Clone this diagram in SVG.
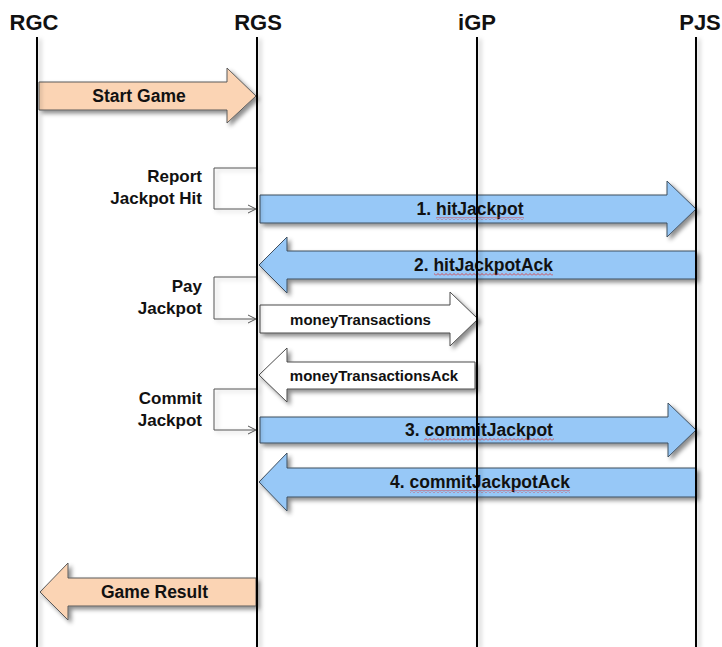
<svg xmlns="http://www.w3.org/2000/svg" width="722" height="647" viewBox="0 0 722 647">
  <style>
    text { font-family: "Liberation Sans", Arial, sans-serif; font-weight: bold; fill: #111; }
    .title { font-size: 22px; text-anchor: middle; }
    .big { font-size: 17.5px; text-anchor: middle; }
    .small { font-size: 15px; text-anchor: middle; }
    .side { font-size: 17px; text-anchor: end; }
    .life { stroke: #000; stroke-width: 2; fill: none; }
    .peach { fill: #FBD4B4; stroke: #5a5a5a; stroke-width: 1; }
    .blue { fill: #97C8F7; stroke: #3f4f5f; stroke-width: 1; }
    .white { fill: #ffffff; stroke: #4a4a4a; stroke-width: 1; }
    .loop { fill: none; stroke: #555; stroke-width: 1; }
  </style>
  <defs>
    <filter id="sh" x="-10%" y="-30%" width="130%" height="180%">
      <feDropShadow dx="3" dy="3" stdDeviation="2" flood-color="#000" flood-opacity="0.45"/>
    </filter>
    <filter id="lsh" filterUnits="userSpaceOnUse" x="0" y="0" width="722" height="647">
      <feDropShadow dx="3" dy="2" stdDeviation="2" flood-color="#000" flood-opacity="0.25"/>
    </filter>
    <pattern id="sq" width="4" height="3" patternUnits="userSpaceOnUse">
      <path d="M0,2.5 L2,0.5 L4,2.5" fill="none" stroke="#e03030" stroke-width="0.8"/>
    </pattern>
  </defs>
  <rect width="722" height="647" fill="#fff"/>

  <g id="connectors">
    <g id="startGame">
      <polygon class="peach" filter="url(#sh)" points="39,82 227,82 227,68 256,96 227,123 227,110 39,110"/>
      <text class="big" x="139" y="102">Start Game</text>
    </g>
    <g id="reportLoop">
      <path class="loop" filter="url(#lsh)" d="M257,168 H214 V209 H255"/>
      <path class="loop" d="M248,205 L256,209 L248,213"/>
    </g>
    <g id="hitJackpot">
      <polygon class="blue" filter="url(#sh)" points="260,195 667,195 667,181 696,209 667,237 667,223 260,223"/>
      <text class="big" x="470" y="215">1. hitJackpot</text>
      <rect x="436" y="217" width="88" height="3" fill="url(#sq)"/>
    </g>
    <g id="hitJackpotAck">
      <polygon class="blue" filter="url(#sh)" points="696,251 287,251 287,237 259,265 287,293 287,279 696,279"/>
      <text class="big" x="483.5" y="271">2. hitJackpotAck</text>
      <rect x="434" y="273" width="119" height="3" fill="url(#sq)"/>
    </g>
    <g id="payLoop">
      <path class="loop" filter="url(#lsh)" d="M257,277 H214 V319 H255"/>
      <path class="loop" d="M248,315 L256,319 L248,323"/>
    </g>
    <g id="moneyTransactions">
      <polygon class="white" filter="url(#sh)" points="260,305 450,305 450,292 478,319 450,346 450,333 260,333"/>
      <text class="small" x="360.5" y="325">moneyTransactions</text>
    </g>
    <g id="moneyTransactionsAck">
      <polygon class="white" filter="url(#sh)" points="475,362 287,362 287,348 259,375 287,402 287,389 475,389"/>
      <text class="small" x="374" y="381">moneyTransactionsAck</text>
    </g>
    <g id="commitLoop">
      <path class="loop" filter="url(#lsh)" d="M257,389 H214 V430 H255"/>
      <path class="loop" d="M248,426 L256,430 L248,434"/>
    </g>
    <g id="commitJackpot">
      <polygon class="blue" filter="url(#sh)" points="260,417 668,417 668,403 696,430 668,457 668,443 260,443"/>
      <text class="big" x="479" y="436">3. commitJackpot</text>
      <rect x="424" y="438" width="130" height="3" fill="url(#sq)"/>
    </g>
    <g id="commitJackpotAck">
      <polygon class="blue" filter="url(#sh)" points="696,468 287,468 287,453 259,482 287,511 287,497 696,497"/>
      <text class="big" x="480" y="488">4. commitJackpotAck</text>
      <rect x="410" y="490" width="160" height="3" fill="url(#sq)"/>
    </g>
    <g id="gameResult">
      <polygon class="peach" filter="url(#sh)" points="256,578 68,578 68,563 40,592 68,620 68,606 256,606"/>
      <text class="big" x="154.5" y="598">Game Result</text>
    </g>
  </g>

  <g id="RGC">
    <text class="title" x="34" y="30">RGC</text>
    <line class="life" filter="url(#lsh)" x1="37" y1="37" x2="37" y2="647"/>
    <text class="side" x="202" y="182">Report</text>
    <text class="side" x="202" y="204">Jackpot Hit</text>
    <text class="side" x="202" y="292">Pay</text>
    <text class="side" x="202" y="314">Jackpot</text>
    <text class="side" x="202" y="404">Commit</text>
    <text class="side" x="202" y="426">Jackpot</text>
  </g>
  <g id="RGS">
    <text class="title" x="258" y="30">RGS</text>
    <line class="life" filter="url(#lsh)" x1="257" y1="37" x2="257" y2="647"/>
  </g>
  <g id="iGP">
    <text class="title" x="477" y="30">iGP</text>
    <line class="life" filter="url(#lsh)" x1="477" y1="37" x2="477" y2="647"/>
  </g>
  <g id="PJS">
    <text class="title" x="700" y="30">PJS</text>
    <line class="life" filter="url(#lsh)" x1="696" y1="37" x2="696" y2="647"/>
  </g>
</svg>
